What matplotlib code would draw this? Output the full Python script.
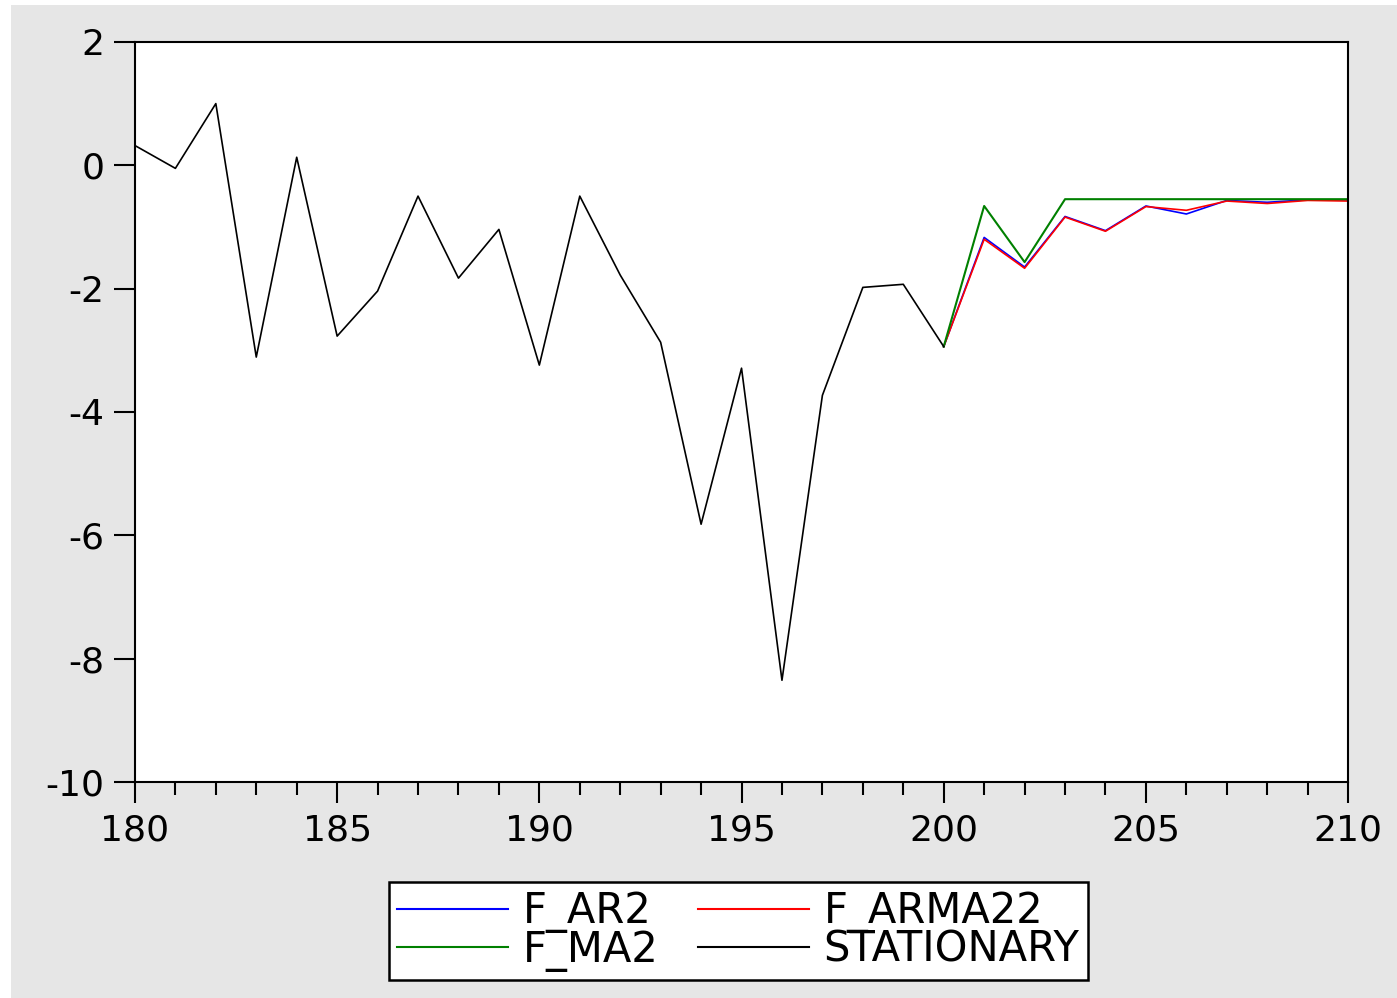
import numpy as np
import matplotlib.pyplot as plt
from matplotlib.patches import Rectangle
from matplotlib.ticker import MultipleLocator

plt.rcParams['font.family'] = ['DejaVu Sans']

# 実績値 (180-200)
obs_x = list(range(180, 201))
stationary = [0.32, -0.05, 1.00, -3.11, 0.13, -2.77, -2.04, -0.50, -1.83, -1.04,
              -3.24, -0.50, -1.78, -2.87, -5.82, -3.29, -8.35, -3.73, -1.98, -1.93,
              -2.94]

# 予測値 (200-210)
fc_x = list(range(200, 211))
f_ar2 = [-2.94, -1.17, -1.65, -0.83, -1.06, -0.66, -0.79, -0.57, -0.60, -0.56, -0.56]
f_arma22 = [-2.94, -1.20, -1.67, -0.84, -1.07, -0.67, -0.73, -0.58, -0.62, -0.57, -0.58]
f_ma2 = [-2.94, -0.66, -1.57, -0.55, -0.55, -0.55, -0.55, -0.55, -0.55, -0.55, -0.55]

fig = plt.figure(figsize=(13.97, 9.98), dpi=100, facecolor='white')
fig.patches.append(Rectangle((11 / 1397, 0), 1, 1 - 5 / 998, transform=fig.transFigure,
                             facecolor='#e6e6e6', edgecolor='none', zorder=-10))

ax = fig.add_axes([0.0966, 0.2164, 0.8684, 0.7416])
ax.set_facecolor('white')

lw = 1.2
l_ar2, = ax.plot(fc_x, f_ar2, color='#0000ff', lw=lw, label='F_AR2')
l_arma, = ax.plot(fc_x, f_arma22, color='#ff0000', lw=lw, label='F_ARMA22')
l_ma2, = ax.plot(fc_x, f_ma2, color='#008000', lw=lw + 0.3, label='F_MA2')
l_st, = ax.plot(obs_x, stationary, color='black', lw=lw, label='STATIONARY')

ax.set_xlim(180, 210)
ax.set_ylim(-10, 2)
ax.xaxis.set_major_locator(MultipleLocator(5))
ax.xaxis.set_minor_locator(MultipleLocator(1))
ax.set_yticks(range(-10, 3, 2))
ax.set_yticklabels(['-10', '-8', '-6', '-4', '-2', '0', '2'])

for s in ax.spines.values():
    s.set_linewidth(1.5)
ax.tick_params(axis='both', which='major', direction='out', length=15, width=1.5,
               labelsize=26, colors='black')
ax.tick_params(axis='x', which='minor', direction='out', length=9, width=1.5)
ax.tick_params(axis='y', pad=7)
ax.tick_params(axis='x', pad=8)

leg = fig.legend([l_ar2, l_ma2, l_arma, l_st],
                 ['F_AR2', 'F_MA2', 'F_ARMA22', 'STATIONARY'],
                 ncol=2, loc='center', bbox_to_anchor=(0.5286, 0.0671),
                 fontsize=30, frameon=True, fancybox=False, edgecolor='black',
                 facecolor='white', framealpha=1,
                 handlelength=2.65, handletextpad=0.36, columnspacing=0.95,
                 labelspacing=-0.1, borderpad=0.2, borderaxespad=0)
leg.get_frame().set_linewidth(1.8)
for h in leg.get_lines():
    h.set_linewidth(1.5)

fig.savefig('out.png', dpi=100, facecolor=fig.get_facecolor())
